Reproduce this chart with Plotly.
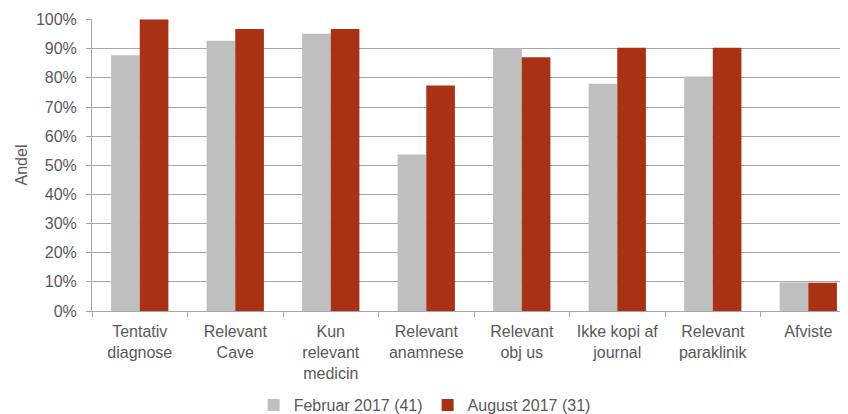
import plotly.graph_objects as go

categories = ["Tentativ<br>diagnose", "Relevant<br>Cave", "Kun<br>relevant<br>medicin",
              "Relevant<br>anamnese", "Relevant<br>obj us", "Ikke kopi af<br>journal",
              "Relevant<br>paraklinik", "Afviste"]
feb_2017 = [0.878, 0.927, 0.951, 0.537, 0.902, 0.780, 0.805, 0.098]
aug_2017 = [1.000, 0.968, 0.968, 0.774, 0.871, 0.903, 0.903, 0.097]
series_names = ["Februar 2017 (41)", "August 2017 (31)"]
y_ticks = [0, 0.1, 0.2, 0.3, 0.4, 0.5, 0.6, 0.7, 0.8, 0.9, 1.0]

FONT = "Liberation Sans, Arial, sans-serif"
TXT = "#595959"
GRID = "#a6a6a6"

fig = go.Figure()
fig.add_trace(go.Bar(x=categories, y=feb_2017, name=series_names[0],
                     marker=dict(color="#bfbfbf", line=dict(width=0))))
fig.add_trace(go.Bar(x=categories, y=aug_2017, name=series_names[1],
                     marker=dict(color="#a93214", line=dict(width=0))))

fig.update_layout(
    width=840, height=406,
    margin=dict(l=84, r=0, t=11, b=103, autoexpand=False),
    paper_bgcolor="white", plot_bgcolor="white",
    barmode="group", bargap=0.4, bargroupgap=0,
    font=dict(family=FONT, size=16, color=TXT),
    showlegend=True,
    legend=dict(orientation="h", x=0.44, xanchor="center", y=-0.322, yanchor="middle",
                font=dict(size=16, color=TXT), traceorder="normal",
                tracegroupgap=0, itemwidth=30),
    hovermode=False,
)
fig.update_xaxes(
    type="category", range=[-0.5, 7.416], automargin=False,
    showline=True, linecolor=GRID, linewidth=1,
    ticks="outside", ticklen=5, tickcolor=GRID, tickson="boundaries",
    tickfont=dict(size=16, color=TXT), ticklabelstandoff=6, showgrid=False,
)
fig.update_yaxes(
    range=[0, 1.002], tickvals=y_ticks, tickformat=".0%", automargin=False,
    showline=True, linecolor=GRID, linewidth=1,
    ticks="outside", ticklen=5, tickcolor=GRID,
    showgrid=True, gridcolor=GRID, gridwidth=1,
    tickfont=dict(size=16, color=TXT), ticklabelstandoff=6,
    zeroline=False,
    title=dict(text="Andel", font=dict(size=16, color=TXT), standoff=4),
)

fig.write_html("out.html")
